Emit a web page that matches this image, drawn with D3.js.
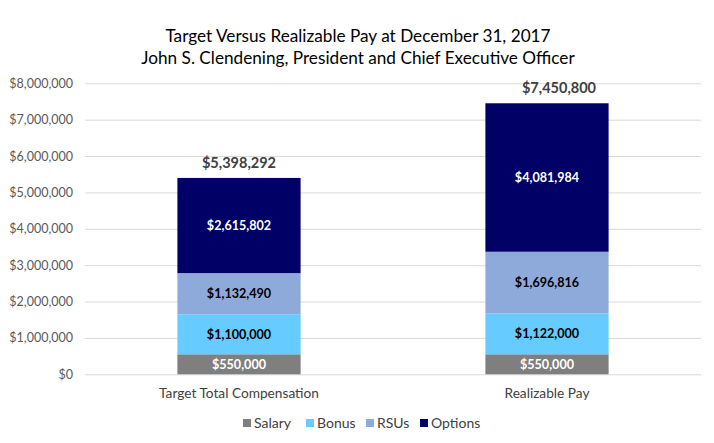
<!DOCTYPE html>
<html><head><meta charset="utf-8">
<script src="https://cdn.jsdelivr.net/npm/d3@7"></script>
<style>body{margin:0;background:#fff}svg{display:block}</style>
</head><body>
<svg id="c" width="714" height="443"></svg>
<script>
const categories = ["Target Total Compensation", "Realizable Pay"];
const seriesNames = ["Salary", "Bonus", "RSUs", "Options"];
const salary = [550000, 550000];
const bonus = [1100000, 1122000];
const rsus = [1132490, 1696816];
const options = [2615802, 4081984];
const totals = [5398292, 7450800];
const yTicks = [0,1000000,2000000,3000000,4000000,5000000,6000000,7000000,8000000];
const colors = ["#7f7f7f", "#66ccff", "#8eaadb", "#000066"];
const labelColors = ["#ffffff", "#000000", "#000000", "#ffffff"];
const titleLines = ["Target Versus Realizable Pay at December 31, 2017", "John S. Clendening, President and Chief Executive Officer"];

const font = "Lato, 'Open Sans', sans-serif";
const svg = d3.select("#c");
const m = {left: 85, right: 13, top: 83.3, bottom: 68.7};
const W = 714, H = 443;
const x = d3.scaleBand().domain(categories).range([m.left, W - m.right]).paddingInner(0.6).paddingOuter(0.3);
const y = d3.scaleLinear().domain([0, 8000000]).range([H - m.bottom, m.top]);
const totalLabelShift = [0, 12];

// title
svg.append("g").selectAll("text").data(titleLines).join("text")
  .attr("x", 358).attr("y", (d,i) => 42 + i*22)
  .attr("text-anchor", "middle").attr("font-family", font).attr("font-size", 17.2)
  .attr("fill", "#000").text(d => d);

// grid + y axis
const yAxis = d3.axisLeft(y).tickValues(yTicks).tickSize(-(W - m.left - m.right))
  .tickFormat(d => "$" + d3.format(",")(d));
const ga = svg.append("g").attr("transform", `translate(${m.left},0)`).call(yAxis);
ga.select(".domain").remove();
ga.selectAll(".tick line").attr("stroke", "#d9d9d9").attr("stroke-width", 1);
ga.selectAll(".tick text").attr("x", -12).attr("font-family", font).attr("font-size", 12.5).attr("fill", "#595959");

// stacked data
const rows = categories.map((c, i) => ({cat: c, Salary: salary[i], Bonus: bonus[i], RSUs: rsus[i], Options: options[i]}));
const stack = d3.stack().keys(seriesNames)(rows);

const layers = svg.append("g").selectAll("g").data(stack).join("g").attr("fill", (d,i) => colors[i]);
layers.selectAll("rect").data(d => d).join("rect")
  .attr("x", d => x(d.data.cat)).attr("width", x.bandwidth())
  .attr("y", d => y(d[1])).attr("height", d => y(d[0]) - y(d[1]));

// segment labels
stack.forEach((layer, li) => {
  svg.append("g").selectAll("text").data(layer).join("text")
    .attr("x", d => x(d.data.cat) + x.bandwidth()/2)
    .attr("y", d => (y(d[0]) + y(d[1]))/2 + 4.5)
    .attr("text-anchor", "middle").attr("font-family", font).attr("font-weight", "bold")
    .attr("font-size", 12.6).attr("fill", labelColors[li])
    .text(d => "$" + d3.format(",")(d[1] - d[0]));
});

// totals
svg.append("g").selectAll("text").data(categories).join("text")
  .attr("x", (d,i) => x(d) + x.bandwidth()/2 + totalLabelShift[i])
  .attr("y", (d,i) => y(totals[i]) - 10)
  .attr("text-anchor", "middle").attr("font-family", font).attr("font-weight", "bold")
  .attr("font-size", 14.5).attr("fill", "#404040")
  .text((d,i) => "$" + d3.format(",")(totals[i]));

// x labels
const xAxis = d3.axisBottom(x).tickSize(0);
const gx = svg.append("g").attr("transform", `translate(0,${H - m.bottom})`).call(xAxis);
gx.select(".domain").remove();
gx.selectAll(".tick text").attr("dy", 0).attr("y", 24).attr("font-family", font).attr("font-size", 13.7).attr("fill", "#404040");

// legend
const legendX = [243, 306, 366, 420];
const lg = svg.append("g").selectAll("g").data(seriesNames).join("g")
  .attr("transform", (d,i) => `translate(${legendX[i]},${423})`);
lg.append("rect").attr("x", 0).attr("y", -4).attr("width", 8).attr("height", 8).attr("fill", (d,i) => colors[i]);
lg.append("text").attr("x", 11).attr("y", 5).attr("font-family", font).attr("font-size", 14).attr("fill", "#404040").text(d => d);
</script>
</body></html>
